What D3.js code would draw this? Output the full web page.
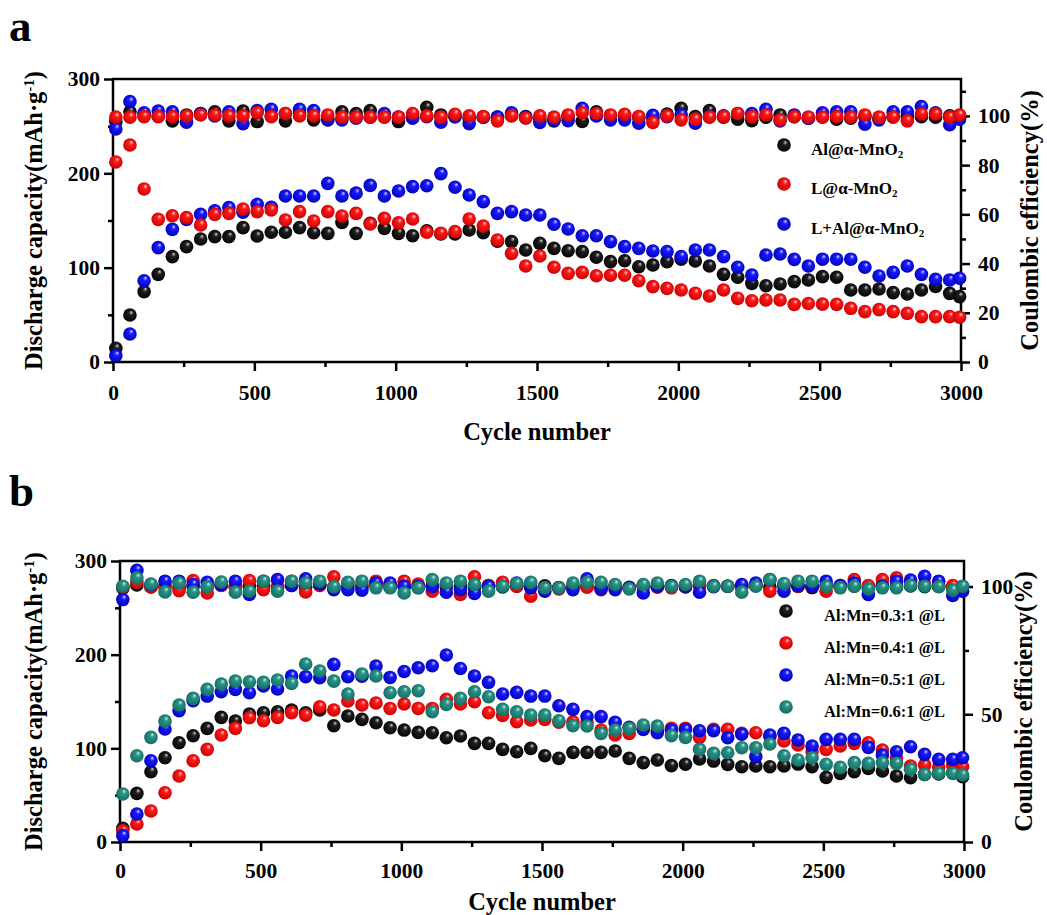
<!DOCTYPE html>
<html>
<head>
<meta charset="utf-8">
<script src="https://cdn.jsdelivr.net/npm/d3@7"></script>
<style>
  body { margin: 0; background: #fff; }
  svg text { font-family: "Liberation Serif", "Times New Roman", serif; font-weight: bold; fill: #000; }
</style>
</head>
<body>
<svg id="chart" width="1047" height="915"></svg>
<script>
// cycle numbers of the sampled points (same for both panels)
const cycles = [10, 60, 110, 160, 210, 260, 310, 360, 410, 460, 510, 560, 610, 660, 710, 760, 810, 860, 910, 960,
  1010, 1060, 1110, 1160, 1210, 1260, 1310, 1360, 1410, 1460, 1510, 1560, 1610, 1660, 1710, 1760, 1810, 1860, 1910, 1960,
  2010, 2060, 2110, 2160, 2210, 2260, 2310, 2360, 2410, 2460, 2510, 2560, 2610, 2660, 2710, 2760, 2810, 2860, 2910, 2960, 2995];

// panel a - discharge capacity (mAh/g)
const capAl = [14.5, 49.8, 74.6, 92.9, 111.7, 122.3, 130.4, 132.9, 132.9, 142.4, 133.6, 137.5, 137.5, 142.4, 137, 136.4, 148, 136.4, 147, 141.7,
  136.4, 133.9, 139.2, 135.7, 135.7, 139.9, 137.1, 128, 127.6, 118.7, 125.8, 120.5, 118, 117, 111, 106.4, 107.4, 101, 102.8, 106.4,
  109, 107.1, 101.8, 92.9, 89.8, 83.4, 80.9, 82.7, 85.2, 87, 90.5, 89.8, 76.3, 76.3, 77.4, 73.5, 72.1, 76.3, 80, 72.8, 69.3];
const capL = [212, 230, 183.4, 151.2, 155.1, 153, 145.2, 156.5, 157.6, 162.2, 159.4, 161.1, 150.5, 159.4, 149.5, 159.4, 154.8, 157.6, 146.3, 152.3,
  147.5, 151.6, 137.5, 136.4, 138.2, 151.6, 144.2, 129.3, 115.2, 101.8, 112.4, 100.4, 94, 95, 91.5, 92, 92, 86.2, 79.9, 78.1,
  76.3, 72.8, 70, 76.3, 67.5, 65, 65.7, 65.7, 61.1, 62, 61.4, 61.1, 56.9, 53.4, 55.5, 53.4, 51.6, 48.1, 48.1, 48.1, 47.5];
const capLAl = [6.7, 29.7, 86.2, 121.2, 140.6, 151.2, 156.5, 160.4, 163.6, 158.7, 167.1, 164, 176, 176, 176, 189.4, 176, 179, 187.2, 176,
  181.3, 185.9, 186.9, 199.7, 185.2, 177, 170, 157.6, 159.4, 155.8, 155.8, 146, 141, 133.9, 133.9, 127.6, 122.3, 120.5, 117.7, 117,
  111.7, 118.7, 118.7, 111.7, 100.4, 92.2, 113.4, 114.5, 108.8, 101.8, 109, 109, 109, 100.4, 91.2, 95, 101.8, 92.9, 87.6, 87, 88.8];

// panel a - coulombic efficiency (%)
const ceAl = [97.7, 101.7, 100.4, 100.0, 98.0, 100.4, 101.0, 101.7, 98.0, 102.0, 97.7, 100.0, 98.0, 101.0, 98.4, 98.4, 101.7, 101.0, 102.2, 99.7,
  97.7, 99.7, 103.5, 100.4, 99.7, 99.1, 99.5, 99.5, 100.4, 99.7, 98.7, 98.0, 99.7, 97.8, 101.7, 100.0, 100.0, 99.5, 99.1, 100.8,
  103.1, 99.7, 102.2, 99.5, 98.7, 98.1, 99.5, 100.4, 99.7, 99.1, 99.7, 98.7, 99.1, 99.7, 99.1, 99.7, 99.7, 99.7, 99.5, 100.0, 99.5];
const ceL = [99.5, 99.5, 99.7, 99.7, 99.7, 100.0, 100.4, 100.4, 100.0, 100.0, 101.3, 99.7, 101.0, 100.0, 100.0, 100.4, 99.5, 99.5, 99.5, 99.5,
  99.5, 101.0, 100.0, 99.5, 100.7, 100.0, 99.7, 98.0, 100.0, 99.1, 100.0, 99.5, 100.4, 101.3, 101.0, 100.4, 100.7, 99.7, 97.3, 100.0,
  98.4, 98.7, 99.5, 99.7, 101.0, 99.7, 100.4, 98.4, 99.7, 99.5, 99.5, 99.7, 99.5, 100.4, 99.5, 99.5, 98.0, 100.8, 100.8, 99.5, 100.4];
const ceLAl = [94.7, 105.8, 101.3, 102.0, 101.7, 97.4, 101.0, 100.0, 101.7, 96.8, 102.2, 102.7, 101.0, 102.7, 102.2, 98.7, 98.4, 99.1, 99.5, 101.0,
  99.5, 99.1, 99.7, 97.4, 99.7, 96.8, 99.5, 99.5, 101.3, 99.5, 97.3, 98.4, 98.1, 103.1, 100.0, 98.4, 98.4, 97.0, 100.2, 99.7,
  100.4, 97.0, 99.7, 100.0, 101.0, 101.0, 102.7, 98.0, 100.4, 99.1, 101.3, 101.7, 101.7, 96.6, 98.4, 101.7, 101.7, 103.8, 101.3, 96.4, 98.7];

// panel b - discharge capacity (mAh/g)
const cap03 = [14.6, 51.9, 75, 90, 106, 113.5, 121.3, 133, 129.1, 136.6, 138, 139.1, 140.9, 138, 140.9, 124.1, 134.5, 130.9, 127.3, 122,
  119.5, 117, 116.7, 111.3, 113.1, 105.3, 105.3, 98.9, 96.4, 100, 92.1, 89.3, 95.7, 95.7, 95.7, 97.1, 89.3, 84.7, 87.5, 81.5,
  83, 88.6, 86.4, 82.9, 80.4, 81.1, 80.4, 81.1, 83.2, 80.4, 69, 73.3, 75.1, 78.6, 75.8, 70.4, 68.7, 72.2, 72.6, 74, 69.7];
const cap04 = [12, 19.2, 33.1, 52.6, 70.4, 86.8, 98.9, 114.2, 121.3, 132.7, 129.5, 133, 138, 135.5, 144.4, 140.9, 150.5, 146.2, 148.4, 142.6,
  147.3, 142.6, 142.6, 152.3, 147.3, 149.8, 138, 135, 128.4, 130.2, 130.8, 128, 128.4, 127.3, 119.5, 114.2, 115.9, 121, 119, 121.3,
  121.3, 111.7, 120.2, 120.2, 116, 116.7, 112.4, 107.8, 103.5, 96.4, 98.9, 102.5, 105.3, 106, 98.2, 89.3, 81.1, 82.2, 80, 82.2, 80.4];
const cap05 = [6.8, 29.9, 86.8, 120.6, 140.2, 150.8, 155.8, 160.4, 162.9, 159.4, 166.5, 163.3, 177.2, 176.5, 175.4, 189.6, 176.5, 177, 187.8, 175.7,
  182, 186, 188.2, 199.6, 185.3, 177.2, 170.4, 158, 159.7, 155.8, 155.8, 145.5, 141.6, 133.8, 133.8, 127.7, 122.4, 120.2, 116.7, 119.5,
  120, 118.8, 118.8, 111.3, 115, 91.1, 114.2, 116, 108.9, 102.5, 109.6, 109.6, 109.6, 101, 92.8, 96.4, 101.7, 93.6, 88.2, 88.2, 90];
const cap06 = [51.2, 92.1, 111.7, 129.1, 146.2, 153.3, 162.9, 168.6, 171.8, 171.1, 170.4, 172.9, 169.3, 190, 182.5, 171.8, 158, 179.3, 177.2, 159.4,
  160.4, 161.5, 139.1, 146.9, 153.3, 160.4, 155.1, 141.6, 139.1, 135.5, 135.5, 129.5, 124.2, 123.8, 116, 119.5, 121.3, 124.9, 123.8, 113.5,
  111.7, 98.9, 94.6, 95.3, 100.7, 100.7, 104.6, 92.1, 87.5, 90, 82.9, 79.7, 84.7, 84, 84.7, 84, 77.6, 72.2, 73.3, 73.3, 71.5];

// panel b - coulombic efficiency (%)
const ce03 = [99.4, 100.6, 99.8, 100.3, 99.6, 100.2, 99.9, 100.5, 99.7, 100.1, 100.3, 99.6, 100.4, 99.8, 100.6, 99.7, 100.2, 99.9, 100.4, 99.8,
  100.1, 99.6, 100.3, 99.9, 100.2, 99.7, 100.4, 99.8, 100.1, 99.9, 100.3, 99.6, 100.2, 100.0, 99.8, 100.3, 99.7, 100.1, 99.9, 100.2,
  99.8, 100.4, 99.9, 100.1, 99.7, 100.3, 99.8, 100.2, 100.0, 99.6, 100.3, 99.9, 100.1, 99.7, 100.4, 99.8, 100.2, 99.9, 100.1, 99.7, 100.0];
const ce04 = [99.7, 101.7, 99.9, 99.5, 98.4, 102.3, 97.5, 100.4, 100.1, 102.3, 98.8, 100.1, 102.1, 97.9, 100.4, 103.8, 101.4, 100.4, 102.1, 100.8,
  102.1, 101.0, 98.2, 100.8, 96.9, 103.8, 100.4, 101.7, 100.1, 96.2, 99.5, 99.1, 100.1, 99.7, 98.8, 100.1, 99.5, 100.1, 99.7, 99.5,
  100.1, 100.8, 100.4, 100.1, 100.1, 100.4, 98.2, 100.8, 100.1, 100.1, 98.2, 100.4, 102.7, 100.4, 102.7, 103.4, 101.4, 101.0, 100.1, 100.4, 99.9];
const ce05 = [94.9, 106.4, 100.8, 102.1, 102.1, 100.8, 101.7, 100.8, 102.1, 96.9, 102.1, 102.7, 100.4, 103.0, 101.0, 98.8, 98.8, 98.6, 101.4, 101.4,
  100.1, 100.1, 99.9, 97.8, 98.8, 97.3, 100.1, 100.1, 101.4, 99.5, 98.2, 99.5, 98.8, 103.0, 99.1, 98.8, 99.5, 97.5, 100.1, 100.4,
  100.1, 97.8, 100.1, 100.1, 100.8, 101.4, 102.7, 98.2, 100.4, 100.1, 102.1, 100.4, 101.4, 96.9, 100.1, 102.1, 102.5, 104.0, 102.1, 96.5, 98.2];
const ce06 = [100.1, 103.4, 101.0, 97.9, 101.4, 97.8, 99.9, 101.8, 97.8, 98.2, 102.1, 98.2, 102.1, 101.4, 102.1, 99.9, 101.7, 102.1, 99.5, 99.5,
  97.5, 99.5, 102.7, 101.4, 102.1, 100.8, 98.2, 100.1, 101.2, 101.7, 99.5, 99.5, 101.4, 101.7, 101.7, 100.8, 99.1, 100.8, 101.4, 100.1,
  100.8, 102.1, 100.1, 100.1, 97.8, 100.1, 102.7, 101.2, 102.1, 102.1, 100.1, 99.5, 100.1, 99.1, 99.5, 99.5, 100.4, 100.1, 99.9, 98.6, 100.1];

// ticks
const xMajor = [0, 500, 1000, 1500, 2000, 2500, 3000];
const xMinor = [250, 750, 1250, 1750, 2250, 2750];
const capMajor = [0, 100, 200, 300];
const capMinor = [50, 150, 250];
const ceMajorA = [0, 20, 40, 60, 80, 100];
const ceMinorA = [10, 30, 50, 70, 90, 110];
const ceMajorB = [0, 50, 100];
const ceMinorB = [25, 75];

const svg = d3.select('#chart');
const defs = svg.append('defs');

// shaded "ball" markers
const balls = {
  black: ['#d0d0d0', '#202020', '#000000'],
  red:   ['#ffd6d6', '#ff1a1a', '#c80000'],
  blue:  ['#d6d6ff', '#1a1aff', '#0000b4'],
  teal:  ['#c8f0ea', '#2a9488', '#136a61']
};
Object.keys(balls).forEach(function(k) {
  const g = defs.append('radialGradient').attr('id', 'ball-' + k)
    .attr('cx', '50%').attr('cy', '50%').attr('r', '55%')
    .attr('fx', '62%').attr('fy', '28%');
  g.append('stop').attr('offset', '0%').attr('stop-color', balls[k][0]);
  g.append('stop').attr('offset', '30%').attr('stop-color', balls[k][1]);
  g.append('stop').attr('offset', '100%').attr('stop-color', balls[k][2]);
});

const R = 6.8;

function drawPanel(p) {
  const x = d3.scaleLinear().domain([0, 3000]).range([p.left, p.right]);
  const yCap = d3.scaleLinear().domain([0, 300]).range([p.bottom, p.top]);
  const yCe = d3.scaleLinear().domain([0, p.ceMax]).range([p.bottom, p.top]);

  const g = svg.append('g');

  // axes
  function styleAxis(sel, size) {
    sel.select('.domain').remove();
    sel.attr('font-size', size).attr('font-family', null);
    sel.selectAll('line').attr('stroke', '#000').attr('stroke-width', 2.5);
  }
  g.append('g').attr('transform', 'translate(0,' + p.bottom + ')')
    .call(d3.axisBottom(x).tickValues(xMajor).tickSize(9).tickPadding(p.xPad).tickFormat(d3.format('d')))
    .call(styleAxis, 21.5);
  g.append('g').attr('transform', 'translate(0,' + p.bottom + ')')
    .call(d3.axisBottom(x).tickValues(xMinor).tickSize(5).tickFormat(''))
    .call(styleAxis, 21.5);
  g.append('g').attr('transform', 'translate(' + p.left + ',0)')
    .call(d3.axisLeft(yCap).tickValues(capMajor).tickSize(9).tickPadding(4))
    .call(styleAxis, 21.5);
  g.append('g').attr('transform', 'translate(' + p.left + ',0)')
    .call(d3.axisLeft(yCap).tickValues(capMinor).tickSize(5).tickFormat(''))
    .call(styleAxis, 21.5);
  g.append('g').attr('transform', 'translate(' + p.right + ',0)')
    .call(d3.axisRight(yCe).tickValues(p.ceMajor).tickSize(9).tickPadding(8))
    .call(styleAxis, 21.5);
  g.append('g').attr('transform', 'translate(' + p.right + ',0)')
    .call(d3.axisRight(yCe).tickValues(p.ceMinor).tickSize(5).tickFormat(''))
    .call(styleAxis, 21.5);

  // frame
  g.append('rect')
    .attr('x', p.left).attr('y', p.top)
    .attr('width', p.right - p.left).attr('height', p.bottom - p.top)
    .attr('fill', 'none').attr('stroke', '#000').attr('stroke-width', 2.5);

  // points
  p.drawOrder.forEach(function(i) {
    const s = p.series[i];
    const dots = g.append('g');
    dots.selectAll('circle.cap').data(cycles).enter().append('circle')
      .attr('class', 'cap')
      .attr('cx', function(d) { return x(d); })
      .attr('cy', function(d, j) { return yCap(s.cap[j]); })
      .attr('r', R).attr('fill', 'url(#ball-' + s.color + ')');
    dots.selectAll('circle.ce').data(cycles).enter().append('circle')
      .attr('class', 'ce')
      .attr('cx', function(d) { return x(d); })
      .attr('cy', function(d, j) { return yCe(s.ce[j]); })
      .attr('r', R).attr('fill', 'url(#ball-' + s.color + ')');
  });

  // legend
  p.series.forEach(function(s, i) {
    g.append('circle').attr('cx', p.legX).attr('cy', p.legY[i])
      .attr('r', R).attr('fill', 'url(#ball-' + s.color + ')');
    const t = g.append('text').attr('x', p.legTextX).attr('y', p.legY[i] + 10)
      .attr('font-size', p.legFont);
    s.label(t);
  });

  // axis titles
  g.append('text').attr('x', (p.left + p.right) / 2).attr('y', p.xTitleY)
    .attr('text-anchor', 'middle').attr('font-size', 24.5).text('Cycle number');

  const yl = g.append('text')
    .attr('transform', 'translate(42,' + ((p.top + p.bottom) / 2) + ') rotate(-90)')
    .attr('text-anchor', 'middle').attr('font-size', 24.5);
  yl.append('tspan').text('Discharge capacity(mAh\u00b7g');
  yl.append('tspan').attr('font-size', 15).attr('baseline-shift', '55%').text('-1');
  yl.append('tspan').text(')');

  g.append('text')
    .attr('transform', 'translate(' + p.rTitleX + ',' + ((p.top + p.bottom) / 2) + ') rotate(-90)')
    .attr('text-anchor', 'middle').attr('font-size', 24.5).text('Coulombic efficiency(%)');

  // panel letter
  g.append('text').attr('x', 9).attr('y', p.letterY).attr('font-size', 45).text(p.letter);
}

function mno2(prefix) {
  return function(t) {
    t.append('tspan').text(prefix + '\u03b1-MnO');
    t.append('tspan').attr('font-size', 11).attr('baseline-shift', '-30%').text('2');
  };
}
function ratio(r) {
  return function(t) { t.text('Al:Mn=' + r + ':1 @L'); };
}

drawPanel({
  left: 113, right: 961, top: 79, bottom: 362, ceMax: 115,
  ceMajor: ceMajorA, ceMinor: ceMinorA, xPad: 14,
  xTitleY: 440, rTitleX: 1038, letter: 'a', letterY: 41,
  legX: 784, legTextX: 811, legY: [145, 184, 224], legFont: 17,
  series: [
    { color: 'black', cap: capAl, ce: ceAl, label: mno2('Al@') },
    { color: 'red', cap: capL, ce: ceL, label: mno2('L@') },
    { color: 'blue', cap: capLAl, ce: ceLAl, label: mno2('L+Al@') }
  ],
  drawOrder: [0, 2, 1]
});

drawPanel({
  left: 120, right: 964, top: 561, bottom: 842, ceMax: 110,
  ceMajor: ceMajorB, ceMinor: ceMinorB, xPad: 12,
  xTitleY: 910, rTitleX: 1032, letter: 'b', letterY: 506,
  legX: 786, legTextX: 824, legY: [611, 643, 675, 707], legFont: 16.5,
  series: [
    { color: 'black', cap: cap03, ce: ce03, label: ratio('0.3') },
    { color: 'red', cap: cap04, ce: ce04, label: ratio('0.4') },
    { color: 'blue', cap: cap05, ce: ce05, label: ratio('0.5') },
    { color: 'teal', cap: cap06, ce: ce06, label: ratio('0.6') }
  ],
  drawOrder: [0, 1, 2, 3]
});
</script>
</body>
</html>
